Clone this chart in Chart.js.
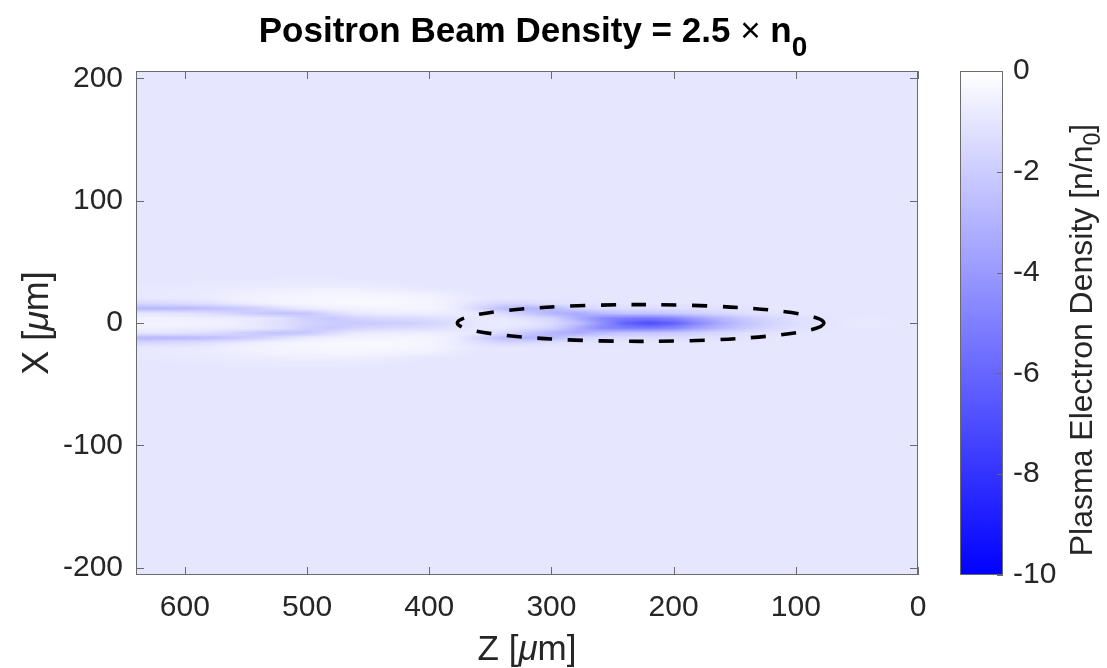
<!DOCTYPE html>
<html>
<head>
<meta charset="utf-8">
<script src="https://cdn.jsdelivr.net/npm/chart.js@4.4.0/dist/chart.umd.min.js"></script>
<style>
  html, body { margin:0; padding:0; background:#ffffff; }
  #wrap { position:relative; width:1107px; height:668px; }
  #wrap canvas { position:absolute; left:0; top:0; }
</style>
</head>
<body>
<div id="wrap">
  <canvas id="main" width="1107" height="668"></canvas>
  <canvas id="cbar" width="1107" height="668"></canvas>
</div>
<script>
// ---------------- DATA ----------------
// Z sample positions (µm) for the density grid
const zGrid = [0,20,40,60,80,100,120,140,160,180,200,220,240,260,280,300,320,340,360,380,400,420,440,460,480,500,520,540,560,580,600,620,640];
// |X| offsets (µm) of the density rows (field is symmetric about X = 0)
const xRowOffsets = [0,4,8,12,16,20,24,28,32,36];
// Plasma electron density [n/n0] along each row, values for zGrid
const densityX0  = [-1.0,-0.95,-0.85,-0.9,-1.1,-1.3,-1.7,-2.3,-3.2,-4.6,-6.2,-7.0,-6.2,-4.2,-2.4,-1.4,-0.9,-0.75,-0.9,-1.3,-1.7,-1.9,-2.0,-2.1,-2.0,-1.7,-1.3,-0.9,-0.6,-0.5,-0.45,-0.45,-0.45];
const densityX4  = [-1.0,-0.95,-0.9,-0.95,-1.05,-1.2,-1.5,-2.0,-2.7,-3.6,-4.7,-5.2,-5.1,-4.6,-3.1,-1.7,-1.2,-0.9,-0.9,-1.1,-1.3,-1.4,-1.5,-1.7,-2.1,-1.9,-1.2,-0.9,-0.75,-0.7,-0.65,-0.6,-0.6];
const densityX8  = [-1.0,-1.0,-1.0,-1.0,-1.0,-1.0,-1.1,-1.25,-1.5,-1.8,-2.1,-2.3,-2.3,-2.7,-3.3,-2.9,-2.1,-1.4,-0.9,-0.75,-0.7,-0.7,-0.75,-0.85,-1.4,-2.2,-2.4,-2.1,-1.7,-1.3,-1.1,-1.0,-1.0];
const densityX12 = [-1.0,-1.0,-1.0,-1.0,-1.0,-1.0,-1.0,-1.05,-1.1,-1.2,-1.3,-1.35,-1.35,-1.4,-1.7,-2.7,-2.9,-2.6,-1.6,-0.7,-0.45,-0.4,-0.45,-0.5,-0.6,-0.8,-1.2,-1.8,-2.2,-2.5,-2.7,-2.8,-2.8];
const densityX16 = [-1.0,-1.0,-1.0,-1.0,-1.0,-1.0,-1.0,-1.0,-1.0,-1.0,-1.0,-1.0,-1.0,-1.05,-1.1,-1.2,-1.5,-1.6,-1.2,-0.7,-0.4,-0.3,-0.25,-0.25,-0.3,-0.35,-0.45,-0.65,-0.9,-1.2,-1.4,-1.5,-1.6];
const densityX20 = [-1.0,-1.0,-1.0,-1.0,-1.0,-1.0,-1.0,-1.0,-1.0,-1.0,-1.0,-1.0,-1.0,-1.0,-1.0,-1.0,-1.0,-1.0,-0.9,-0.65,-0.45,-0.35,-0.3,-0.3,-0.3,-0.35,-0.4,-0.5,-0.6,-0.75,-0.85,-0.9,-0.95];
const densityX24 = [-1.0,-1.0,-1.0,-1.0,-1.0,-1.0,-1.0,-1.0,-1.0,-1.0,-1.0,-1.0,-1.0,-1.0,-1.0,-1.0,-1.0,-1.0,-1.0,-0.8,-0.6,-0.5,-0.42,-0.4,-0.4,-0.42,-0.48,-0.55,-0.65,-0.75,-0.8,-0.85,-0.9];
const densityX28 = [-1.0,-1.0,-1.0,-1.0,-1.0,-1.0,-1.0,-1.0,-1.0,-1.0,-1.0,-1.0,-1.0,-1.0,-1.0,-1.0,-1.0,-1.0,-1.0,-1.0,-0.9,-0.8,-0.7,-0.6,-0.6,-0.6,-0.65,-0.7,-0.75,-0.8,-0.85,-0.9,-0.9];
const densityX32 = [-1.0,-1.0,-1.0,-1.0,-1.0,-1.0,-1.0,-1.0,-1.0,-1.0,-1.0,-1.0,-1.0,-1.0,-1.0,-1.0,-1.0,-1.0,-1.0,-1.0,-1.0,-0.95,-0.88,-0.8,-0.78,-0.78,-0.8,-0.85,-0.88,-0.9,-0.92,-0.95,-0.95];
const densityX36 = [-1.0,-1.0,-1.0,-1.0,-1.0,-1.0,-1.0,-1.0,-1.0,-1.0,-1.0,-1.0,-1.0,-1.0,-1.0,-1.0,-1.0,-1.0,-1.0,-1.0,-1.0,-1.0,-1.0,-0.95,-0.9,-0.9,-0.92,-0.95,-0.95,-1.0,-1.0,-1.0,-1.0];
const densityRows = [densityX0, densityX4, densityX8, densityX12, densityX16, densityX20, densityX24, densityX28, densityX32, densityX36];
const backgroundDensity = -1.0;

// Beam outline (dashed ellipse), µm
const beamCenterZ = 227, beamCenterX = 0, beamHalfLengthZ = 150, beamHalfWidthX = 15;

// Axes
const zRange = [0, 640];
const xRange = [-206, 206];
const zTicks = [600, 500, 400, 300, 200, 100, 0];
const xTicks = [-200, -100, 0, 100, 200];
const cbRange = [-10, 0];
const cbTicks = [0, -2, -4, -6, -8, -10];

// ---------------- STYLE ----------------
const FONT = "'Liberation Sans', Arial, Helvetica, sans-serif";
const TXT = '#262626';
const FRAME = '#6b6b6b';

function cmap(v) {
  const t = Math.min(1, Math.max(0, (cbRange[1] - v) / (cbRange[1] - cbRange[0])));
  const c = Math.round(255 * (1 - t));
  return [c, c, 255];
}
function rgb(a) { return 'rgb(' + a[0] + ',' + a[1] + ',' + a[2] + ')'; }

// rich text: segs = [{t, font, dy}]
function drawRich(ctx, segs, x, y) {
  let w = 0;
  segs.forEach(s => { ctx.font = s.font; w += ctx.measureText(s.t).width; });
  let cx = x - w / 2;
  ctx.textAlign = 'left';
  ctx.textBaseline = 'alphabetic';
  segs.forEach(s => {
    ctx.font = s.font;
    ctx.fillText(s.t, cx, y + (s.dy || 0));
    cx += ctx.measureText(s.t).width;
  });
}

const heatPlugin = {
  id: 'heat',
  beforeDatasetsDraw(chart) {
    const ctx = chart.ctx, a = chart.chartArea;
    const xs = chart.scales.x, ys = chart.scales.y;
    ctx.save();
    ctx.beginPath(); ctx.rect(a.left, a.top, a.right - a.left, a.bottom - a.top); ctx.clip();
    ctx.fillStyle = rgb(cmap(backgroundDensity));
    ctx.fillRect(a.left, a.top, a.right - a.left, a.bottom - a.top);
    const nc = zGrid.length;
    const rowsX = [], rowsV = [];
    const stepX = xRowOffsets[1] - xRowOffsets[0];
    const outer = xRowOffsets[xRowOffsets.length - 1] + stepX;
    rowsX.push(outer); rowsV.push(null);
    for (let i = xRowOffsets.length - 1; i >= 0; i--) { rowsX.push(xRowOffsets[i]); rowsV.push(densityRows[i]); }
    for (let i = 1; i < xRowOffsets.length; i++) { rowsX.push(-xRowOffsets[i]); rowsV.push(densityRows[i]); }
    rowsX.push(-outer); rowsV.push(null);
    const nr = rowsX.length;
    const off = document.createElement('canvas');
    off.width = nc; off.height = nr;
    const octx = off.getContext('2d');
    const img = octx.createImageData(nc, nr);
    for (let r = 0; r < nr; r++) {
      for (let c = 0; c < nc; c++) {
        const zi = nc - 1 - c;
        const v = rowsV[r] ? rowsV[r][zi] : backgroundDensity;
        const col = cmap(v);
        const k = (r * nc + c) * 4;
        img.data[k] = col[0]; img.data[k+1] = col[1]; img.data[k+2] = col[2]; img.data[k+3] = 255;
      }
    }
    octx.putImageData(img, 0, 0);
    const dz = zGrid[1] - zGrid[0];
    const x0 = xs.getPixelForValue(zGrid[nc - 1] + dz / 2);
    const x1 = xs.getPixelForValue(zGrid[0] - dz / 2);
    const y0 = ys.getPixelForValue(outer + stepX / 2);
    const y1 = ys.getPixelForValue(-outer - stepX / 2);
    ctx.imageSmoothingEnabled = true;
    ctx.imageSmoothingQuality = 'low';
    ctx.drawImage(off, x0, y0, x1 - x0, y1 - y0);
    // dashed beam ellipse
    const ecx = xs.getPixelForValue(beamCenterZ), ecy = ys.getPixelForValue(beamCenterX);
    const rx = Math.abs(xs.getPixelForValue(beamCenterZ + beamHalfLengthZ) - ecx);
    const ry = Math.abs(ys.getPixelForValue(beamCenterX + beamHalfWidthX) - ecy);
    ctx.beginPath();
    ctx.ellipse(ecx, ecy, rx, ry, 0, 0, Math.PI * 2);
    ctx.setLineDash([15, 15.5]);
    ctx.lineWidth = 3.6;
    ctx.strokeStyle = '#000000';
    ctx.stroke();
    ctx.restore();
  },
  afterDatasetsDraw(chart) {
    const ctx = chart.ctx, a = chart.chartArea;
    const xs = chart.scales.x, ys = chart.scales.y;
    ctx.save();
    ctx.strokeStyle = FRAME; ctx.lineWidth = 1;
    ctx.strokeRect(Math.round(a.left) + 0.5, Math.round(a.top) + 0.5, Math.round(a.right - a.left) - 1, Math.round(a.bottom - a.top) - 1);
    const L = 8;
    ctx.beginPath();
    zTicks.forEach(v => {
      const p = Math.round(xs.getPixelForValue(v)) + 0.5;
      ctx.moveTo(p, a.bottom); ctx.lineTo(p, a.bottom - L);
      ctx.moveTo(p, a.top); ctx.lineTo(p, a.top + L);
    });
    xTicks.forEach(v => {
      const p = Math.round(ys.getPixelForValue(v)) + 0.5;
      ctx.moveTo(a.left, p); ctx.lineTo(a.left + L, p);
      ctx.moveTo(a.right, p); ctx.lineTo(a.right - L, p);
    });
    ctx.stroke();
    ctx.restore();
  },
  afterDraw(chart) {
    const ctx = chart.ctx, a = chart.chartArea;
    const cx = (a.left + a.right) / 2, cy = (a.top + a.bottom) / 2;
    ctx.save();
    ctx.fillStyle = '#000000';
    drawRich(ctx, [
      { t: 'Positron Beam Density = 2.5 ', font: 'bold 35px ' + FONT },
      { t: '\u00D7', font: '35px ' + FONT },
      { t: ' n', font: 'bold 35px ' + FONT },
      { t: '0', font: 'bold 28px ' + FONT, dy: 14 }
    ], cx + 6, 42);
    ctx.fillStyle = TXT;
    drawRich(ctx, [
      { t: 'Z [', font: '35px ' + FONT },
      { t: '\u03BC', font: 'italic 35px ' + FONT },
      { t: 'm]', font: '35px ' + FONT }
    ], cx, 660);
    ctx.translate(48, cy);
    ctx.rotate(-Math.PI / 2);
    drawRich(ctx, [
      { t: 'X [', font: '36px ' + FONT },
      { t: '\u03BC', font: 'italic 36px ' + FONT },
      { t: 'm]', font: '36px ' + FONT }
    ], 0, 0);
    ctx.restore();
  }
};

new Chart(document.getElementById('main'), {
  type: 'scatter',
  data: { datasets: [{ data: [] }] },
  options: {
    responsive: false, animation: false, devicePixelRatio: 1,
    layout: { padding: { left: 0, top: 71, right: 189, bottom: 0 } },
    plugins: { legend: { display: false }, tooltip: { enabled: false }, title: { display: false } },
    scales: {
      x: {
        type: 'linear', reverse: true, min: zRange[0], max: zRange[1],
        afterBuildTicks: s => { s.ticks = zTicks.map(v => ({ value: v })); },
        ticks: { font: { family: FONT, size: 30 }, color: TXT, padding: 15, maxRotation: 0, autoSkip: false },
        grid: { display: false, drawTicks: false }, border: { display: false },
        afterFit: s => { s.height = 93; }
      },
      y: {
        type: 'linear', min: xRange[0], max: xRange[1],
        afterBuildTicks: s => { s.ticks = xTicks.map(v => ({ value: v })); },
        ticks: { font: { family: FONT, size: 30 }, color: TXT, padding: 13, autoSkip: false },
        grid: { display: false, drawTicks: false }, border: { display: false },
        afterFit: s => { s.width = 136; }
      }
    }
  },
  plugins: [heatPlugin]
});

const cbPlugin = {
  id: 'cb',
  beforeDatasetsDraw(chart) {
    const ctx = chart.ctx, a = chart.chartArea, ys = chart.scales.y;
    ctx.save();
    const g = ctx.createLinearGradient(0, ys.getPixelForValue(cbRange[1]), 0, ys.getPixelForValue(cbRange[0]));
    g.addColorStop(0, rgb(cmap(cbRange[1])));
    g.addColorStop(1, rgb(cmap(cbRange[0])));
    ctx.fillStyle = g;
    ctx.fillRect(a.left, a.top, a.right - a.left, a.bottom - a.top);
    ctx.strokeStyle = FRAME; ctx.lineWidth = 1;
    ctx.strokeRect(Math.round(a.left) + 0.5, Math.round(a.top) + 0.5, Math.round(a.right - a.left) - 1, Math.round(a.bottom - a.top) - 1);
    ctx.beginPath();
    cbTicks.forEach(v => {
      const p = Math.round(ys.getPixelForValue(v)) + 0.5;
      ctx.moveTo(a.right, p); ctx.lineTo(a.right - 6, p);
    });
    ctx.stroke();
    ctx.restore();
  },
  afterDraw(chart) {
    const ctx = chart.ctx;
    ctx.save();
    ctx.fillStyle = TXT;
    ctx.translate(1092, 340);
    ctx.rotate(-Math.PI / 2);
    drawRich(ctx, [
      { t: 'Plasma Electron Density [n/n', font: '32px ' + FONT },
      { t: '0', font: '23px ' + FONT, dy: 8 },
      { t: ']', font: '32px ' + FONT }
    ], 0, 0);
    ctx.restore();
  }
};

new Chart(document.getElementById('cbar'), {
  type: 'scatter',
  data: { datasets: [{ data: [] }] },
  options: {
    responsive: false, animation: false, devicePixelRatio: 1,
    layout: { padding: { left: 960, top: 71, right: 0, bottom: 93 } },
    plugins: { legend: { display: false }, tooltip: { enabled: false } },
    scales: {
      x: { type: 'linear', display: false, min: 0, max: 1 },
      y: {
        type: 'linear', position: 'right', min: cbRange[0], max: cbRange[1],
        afterBuildTicks: s => { s.ticks = cbTicks.map(v => ({ value: v })); },
        ticks: { font: { family: FONT, size: 30 }, color: TXT, padding: 10, autoSkip: false },
        grid: { display: false, drawTicks: false }, border: { display: false },
        afterFit: s => { s.width = 104; }
      }
    }
  },
  plugins: [cbPlugin]
});
</script>
</body>
</html>
